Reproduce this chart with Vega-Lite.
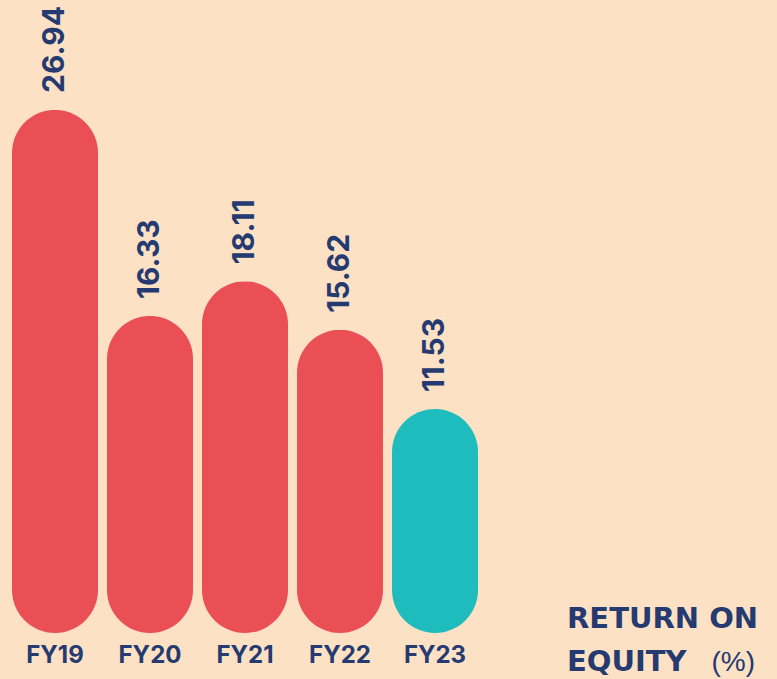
{
  "$schema": "https://vega.github.io/schema/vega-lite/v6.json",
  "width": 476,
  "height": 633,
  "autosize": "none",
  "padding": {"left": 7, "top": 0, "right": 294, "bottom": 46},
  "background": "#FDE1C4",
  "config": {
    "view": {"stroke": null}
  },
  "title": {
    "text": ["RETURN ON", "EQUITY"],
    "orient": "top",
    "anchor": "start",
    "frame": "group",
    "align": "left",
    "baseline": "top",
    "dx": 560,
    "dy": 677,
    "offset": 0,
    "lineHeight": 43,
    "font": "DejaVu Sans",
    "fontSize": 29,
    "fontWeight": "bold",
    "color": "#243A70"
  },
  "data": {
    "values": [
      {"year": "FY19", "roe": 26.94},
      {"year": "FY20", "roe": 16.33},
      {"year": "FY21", "roe": 18.11},
      {"year": "FY22", "roe": 15.62},
      {"year": "FY23", "roe": 11.53}
    ]
  },
  "encoding": {
    "x": {
      "field": "year",
      "type": "nominal",
      "sort": null,
      "scale": {"paddingInner": 0.0947, "paddingOuter": 0.0526},
      "axis": {
        "domain": false,
        "ticks": false,
        "grid": false,
        "labelAngle": 0,
        "labelPadding": 10,
        "labelFont": "Inter",
        "labelFontSize": 24,
        "labelFontWeight": "bold",
        "labelColor": "#243A70",
        "title": "(%)",
        "titleX": 704,
        "titleY": 37,
        "titleAlign": "left",
        "titleAnchor": "start",
        "titleBaseline": "alphabetic",
        "titleFont": "Liberation Sans",
        "titleFontSize": 28,
        "titleFontWeight": "normal",
        "titleColor": "#243A70"
      }
    },
    "y": {
      "field": "roe",
      "type": "quantitative",
      "scale": {"domain": [0, 32.6], "nice": false, "zero": true},
      "axis": null
    }
  },
  "layer": [
    {
      "mark": {"type": "bar", "cornerRadius": 43},
      "encoding": {
        "color": {
          "condition": {"test": "datum.year === 'FY23'", "value": "#1FBCBE"},
          "value": "#EB4F56"
        }
      }
    },
    {
      "mark": {
        "type": "text",
        "angle": 270,
        "align": "left",
        "baseline": "middle",
        "dx": 17,
        "font": "Inter",
        "fontSize": 30,
        "fontWeight": "bold",
        "color": "#243A70"
      },
      "encoding": {
        "text": {"field": "roe", "type": "quantitative", "format": ".2f"}
      }
    }
  ]
}
